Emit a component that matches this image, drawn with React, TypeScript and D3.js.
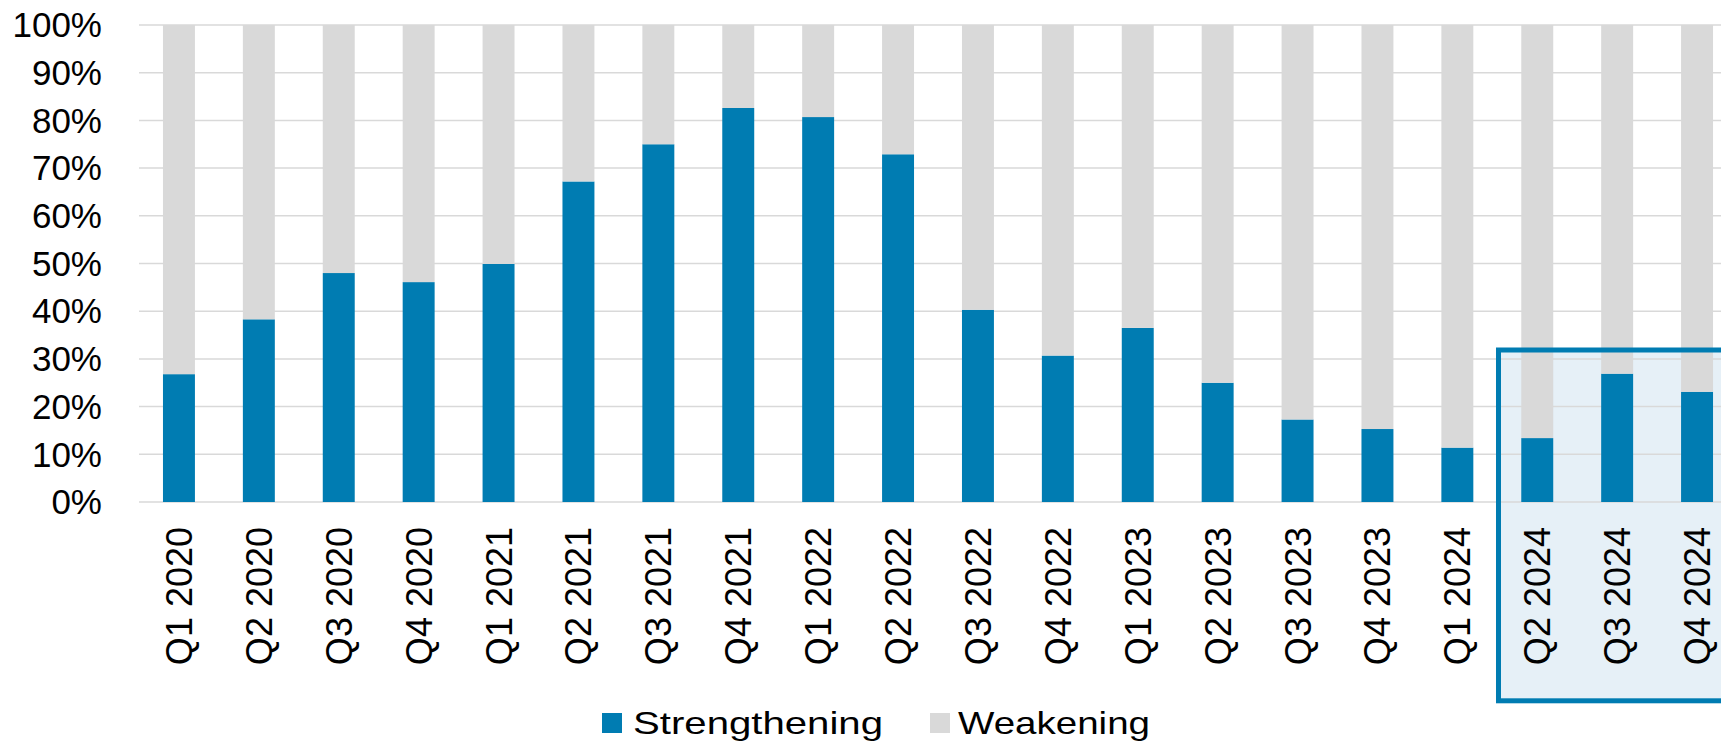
import React from 'react';
import * as d3 from 'd3';

const width = 1721;
const height = 743;
const margin = {top: 25, right: -16, bottom: 241, left: 139};
const blue = '#007cb2';
const grey = '#d9d9d9';
const boxFill = '#e6f0f7';

const quarters = [
  'Q1 2020', 'Q2 2020', 'Q3 2020', 'Q4 2020',
  'Q1 2021', 'Q2 2021', 'Q3 2021', 'Q4 2021',
  'Q1 2022', 'Q2 2022', 'Q3 2022', 'Q4 2022',
  'Q1 2023', 'Q2 2023', 'Q3 2023', 'Q4 2023',
  'Q1 2024', 'Q2 2024', 'Q3 2024', 'Q4 2024',
];
// share of strengthening, % (weakening is the rest up to 100)
const strengthening = [
  26.8, 38.3, 48, 46.1,
  49.9, 67.2, 75, 82.6,
  80.7, 72.9, 40.3, 30.7,
  36.5, 25, 17.3, 15.3,
  11.4, 13.4, 26.9, 23.1,
];
const yTicks = [0, 10, 20, 30, 40, 50, 60, 70, 80, 90, 100];
const highlighted = ['Q2 2024', 'Q3 2024', 'Q4 2024'];
const legendItems = [
  {label: 'Strengthening', color: blue, len: 250},
  {label: 'Weakening', color: grey, len: 192},
];

const font = '"Liberation Sans", Arial, sans-serif';

export default function App() {
  const x = d3.scaleBand<string>()
    .domain(quarters)
    .range([margin.left, width - margin.right])
    .paddingInner(0.6)
    .paddingOuter(0.3);
  const y = d3.scaleLinear().domain([0, 100]).range([height - margin.bottom, margin.top]);

  const rows = quarters.map((q, i) => ({q, s: strengthening[i], w: 100 - strengthening[i]}));
  const stack = d3.stack<any>().keys(['s', 'w'])(rows);

  // highlight box round the last quarters
  const hx = x(highlighted[0])! - x.step() * 0.285;
  const boxTop = 350;
  const boxBottom = 700.8;

  return (
    <svg width={width} height={height} style={{position: 'absolute', left: 0, top: 0}}>
      <rect x={hx} y={boxTop} width={width - hx + 10} height={boxBottom - boxTop} fill={boxFill}/>
      <g>
        {yTicks.map(t => (
          <g key={t}>
            <line x1={margin.left} x2={width} y1={y(t)} y2={y(t)} stroke={grey} strokeWidth={1.5}/>
            <text x={102} y={y(t)} dy='0.35em' textAnchor='end' fontFamily={font} fontSize={35} fill='#000'>
              {`${t}%`}
            </text>
          </g>
        ))}
      </g>
      {stack.map((layer, li) => (
        <g key={li} fill={li === 0 ? blue : grey}>
          {layer.map((d, i) => (
            <rect key={i} x={x(quarters[i])} y={y(d[1])} width={x.bandwidth()} height={y(d[0]) - y(d[1])}/>
          ))}
        </g>
      ))}
      <g>
        {quarters.map(q => (
          <text key={q} transform={`translate(${x(q)! + x.bandwidth() / 2}, 527) rotate(-90)`}
                dy='0.36em' textAnchor='end' fontFamily={font} fontSize={36} fill='#000'>
            {q}
          </text>
        ))}
      </g>
      <rect x={hx} y={boxTop} width={width - hx + 10} height={boxBottom - boxTop}
            fill='none' stroke={blue} strokeWidth={5}/>
      <g>
        <rect x={602} y={713} width={20} height={20} fill={legendItems[0].color}/>
        <text x={633} y={734} fontFamily={font} fontSize={32} textLength={legendItems[0].len}
              lengthAdjust='spacingAndGlyphs'>{legendItems[0].label}</text>
        <rect x={930} y={713} width={20} height={20} fill={legendItems[1].color}/>
        <text x={958} y={734} fontFamily={font} fontSize={32} textLength={legendItems[1].len}
              lengthAdjust='spacingAndGlyphs'>{legendItems[1].label}</text>
      </g>
    </svg>
  );
}
